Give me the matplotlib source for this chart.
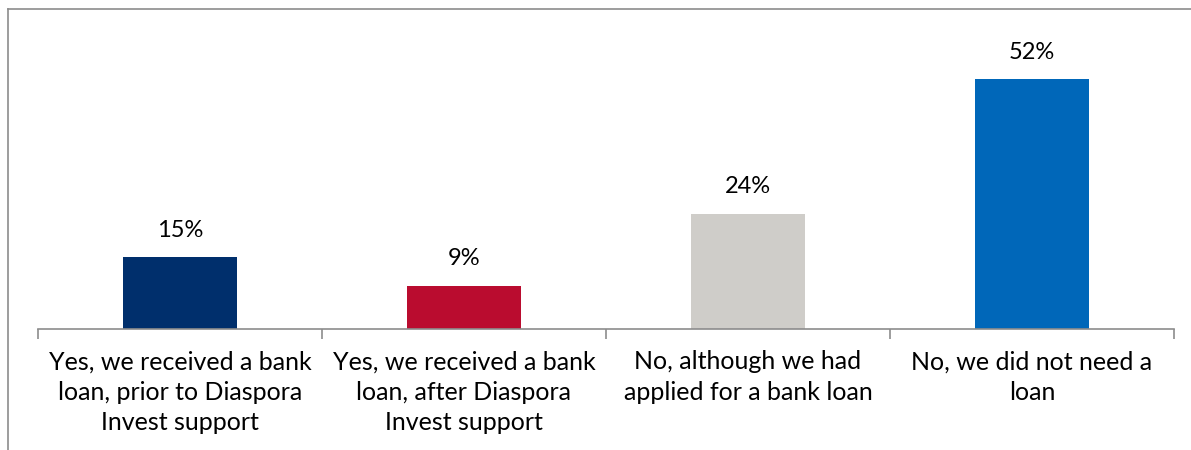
import numpy as np
import matplotlib.pyplot as plt
from matplotlib.lines import Line2D

plt.rcParams['font.family'] = ['Lato', 'DejaVu Sans']

categories = ['Yes, we received a bank\nloan, prior to Diaspora\nInvest support',
              'Yes, we received a bank\nloan, after Diaspora\nInvest support',
              'No, although we had\napplied for a bank loan',
              'No, we did not need a\nloan']
shares = [15, 9, 24, 52]
colors = ['#002F6C', '#BA0C2F', '#CFCDC9', '#0067B9']

fig = plt.figure(figsize=(11.91, 4.5), dpi=100)
ax = fig.add_axes([38/1191, 1-329/450, 1136/1191, 300/450])

x = np.arange(len(shares))
ax.bar(x, shares, width=0.4, color=colors, zorder=2)
ax.set_xlim(-0.5, len(shares)-0.5)
ax.set_ylim(0, 62.5)

for xi, v in zip(x, shares):
    ax.text(xi, v + 5.6, f'{v}%', ha='center', va='center', fontsize=17)

for s in ['top', 'right', 'left']:
    ax.spines[s].set_visible(False)
ax.spines['bottom'].set_color('#8C8C8C')
ax.spines['bottom'].set_linewidth(1.2)
ax.set_yticks([])
ax.set_xticks(np.arange(-0.5, len(shares)), minor=False)
ax.set_xticklabels([])
ax.tick_params(axis='x', length=7, color='#8C8C8C', width=1.2)
for xi, lab in zip(x, categories):
    ax.text(xi, -4.4, lab, ha='center', va='top', fontsize=18,
            linespacing=1.4)

# outer frame, top and left edges
fig.add_artist(Line2D([8/1191, 8/1191], [0, 1-9/450], color='#8C8C8C', lw=1.2))
fig.add_artist(Line2D([8/1191, 1], [1-9/450, 1-9/450], color='#8C8C8C', lw=1.2))

fig.savefig('out.png', dpi=100)
